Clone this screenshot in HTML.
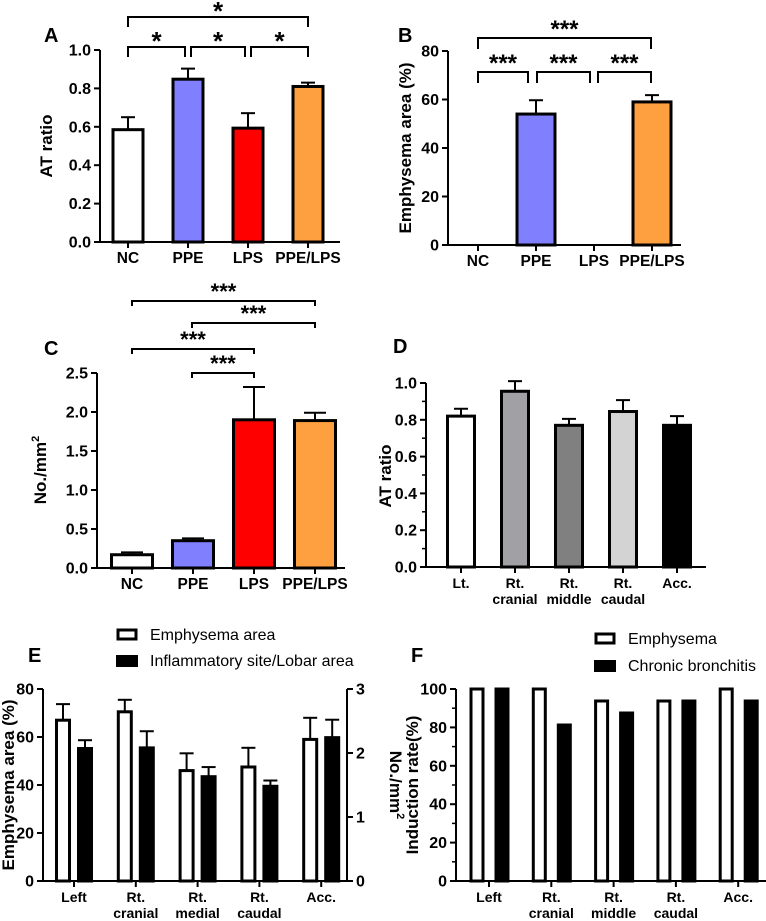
<!DOCTYPE html>
<html><head><meta charset="utf-8"><style>
body{margin:0;background:#fff}
svg{display:block;font-family:"Liberation Sans",Arial,sans-serif}
</style></head><body>
<svg id="fig" width="766" height="921" viewBox="0 0 766 921" xmlns="http://www.w3.org/2000/svg"></svg>
<script>
// Panel A
const aCats=["NC","PPE","LPS","PPE/LPS"];
const aVals=[0.585,0.848,0.593,0.81];
const aErr=[0.065,0.055,0.078,0.02];
const aTicks=[0,0.2,0.4,0.6,0.8,1.0];
// Panel B
const bCats=["NC","PPE","LPS","PPE/LPS"];
const bVals=[0,54,0,59];
const bErr=[0,5.7,0,2.8];
const bTicks=[0,20,40,60,80];
// Panel C
const cCats=["NC","PPE","LPS","PPE/LPS"];
const cVals=[0.17,0.35,1.9,1.89];
const cErr=[0.03,0.03,0.42,0.1];
const cTicks=[0,0.5,1.0,1.5,2.0,2.5];
// Panel D
const dCats=[["Lt."],["Rt.","cranial"],["Rt.","middle"],["Rt.","caudal"],["Acc."]];
const dVals=[0.82,0.955,0.77,0.845,0.77];
const dErr=[0.04,0.055,0.035,0.062,0.05];
const dTicks=[0,0.2,0.4,0.6,0.8,1.0];
// Panel E
const eCats=[["Left"],["Rt.","cranial"],["Rt.","medial"],["Rt.","caudal"],["Acc."]];
const eEmph=[67,70.5,46,47.5,59];
const eEmphErr=[6.7,5,7.2,8,9];
const eInfl=[2.07,2.08,1.63,1.48,2.24];
const eInflErr=[0.13,0.26,0.15,0.09,0.28];
const eTicksL=[0,20,40,60,80];
const eTicksR=[0,1,2,3];
// Panel F
const fCats=[["Left"],["Rt.","cranial"],["Rt.","middle"],["Rt.","caudal"],["Acc."]];
const fEmph=[100,100,93.75,93.75,100];
const fChron=[100,81.25,87.5,93.75,93.75];
const fTicks=[0,20,40,60,80,100];

const NS="http://www.w3.org/2000/svg";
const svg=document.getElementById('fig');
function el(tag,attrs,parent,text){
  const e=document.createElementNS(NS,tag);
  for(const k in attrs)e.setAttribute(k,attrs[k]);
  if(text!==undefined)e.textContent=text;
  (parent||svg).appendChild(e);return e;
}
function group(name){const g=el('g',{});return g;}
function lin(d0,d1,r0,r1){return v=>r0+(v-d0)/(d1-d0)*(r1-r0);}
function fmt(v,dec){return v.toFixed(dec);}

function yAxis(g,x,y,ticks,dec,minor,side){
  const ax=el('line',{x1:x,y1:y(ticks[0])+1,x2:x,y2:y(ticks[ticks.length-1]),stroke:'#000','stroke-width':2},g);
  
  const s=side||-1;
  ticks.forEach(t=>{
    el('line',{x1:x,x2:x+s*6,y1:y(t),y2:y(t),stroke:'#000','stroke-width':2},g);
    const tx=el('text',{x:x+s*9,y:y(t)+5.5,'font-size':16,'font-weight':'bold','text-anchor':s<0?'end':'start'},g,fmt(t,dec));
    
  });
  if(minor){for(let i=0;i<ticks.length-1;i++){const m=(ticks[i]+ticks[i+1])/2;el('line',{x1:x,x2:x+s*4,y1:y(m),y2:y(m),stroke:'#000','stroke-width':1.5},g);}}
}
function xAxis(g,x0,x1,y0){
  const a=el('line',{x1:x0-1,x2:x1,y1:y0,y2:y0,stroke:'#000','stroke-width':2},g);
  
}
function xLabels(g,xs,cats,y0,fs){
  cats.forEach((c,i)=>{
    el('line',{x1:xs(i),x2:xs(i),y1:y0,y2:y0+6,stroke:'#000','stroke-width':2},g);
    const lines=Array.isArray(c)?c:[c];
    lines.forEach((l,j)=>{const t=el('text',{x:xs(i),y:y0+21+j*16,'font-size':fs||15.5,'font-weight':'bold','text-anchor':'middle'},g,l);
      });
  });
}
function bar(g,cx,w,y,v,fill,name,stroke){
  const top=y(v),b=y(0);
  const r=el('rect',{x:cx-w/2,y:top,width:w,height:Math.max(0,b-top),fill:fill,stroke:stroke||'#000','stroke-width':3},g);
  
}
function errbar(g,cx,y,v,e,capw){
  if(e<=0)return;
  el('line',{x1:cx,x2:cx,y1:y(v),y2:y(v+e),stroke:'#000','stroke-width':2},g);
  el('line',{x1:cx-capw,x2:cx+capw,y1:y(v+e),y2:y(v+e),stroke:'#000','stroke-width':2},g);
}
function bracket(g,xa,xb,yy,drop,stars,fs,off){
  el('path',{d:`M${xa},${yy+drop} V${yy} H${xb} V${yy+drop}`,fill:'none',stroke:'#000','stroke-width':2},g);
  const t=el('text',{x:(xa+xb)/2,y:yy+off,'font-size':fs||22,'font-weight':'bold','text-anchor':'middle'},g,stars);
  
}
function label(txt,x,y){const t=el('text',{x:x,y:y,'font-size':20,'font-weight':'bold'},svg,txt);}
function ytitle(g,txt,x,y,rot,sup){
  const t=el('text',{x:x,y:y,'font-size':17,'font-weight':'bold','text-anchor':'middle',transform:`rotate(${rot} ${x} ${y})`},g);
  t.textContent=txt;
  if(sup){el('tspan',{dy:-7,'font-size':11},t,sup);}
  
}
const colors4=['#ffffff','#8080ff','#ff0000','#ffa040'];

// ---- A
(function(){
  const g=group('panel-a-chart');
  const y=lin(0,1,242,50), xs=i=>128+i*60;
  aCats.forEach((c,i)=>{bar(g,xs(i),30,y,aVals[i],colors4[i],'bar-'+c.toLowerCase());errbar(g,xs(i),y,aVals[i],aErr[i],7);});
  xAxis(g,100,340,242);yAxis(g,100,y,aTicks,1,false);xLabels(g,xs,aCats,242);
  ytitle(g,'AT ratio',52,146,-90);
  bracket(g,128,308,17,10,'*',26,3);
  bracket(g,128,185,47,10,'*',26,3);bracket(g,191,245,47,10,'*',26,3);bracket(g,251,308,47,10,'*',26,3);
  label('A',44,42);
})();
// ---- B
(function(){
  const g=group('panel-b-chart');
  const y=lin(0,80,245,51), xs=i=>478+i*58;
  bCats.forEach((c,i)=>{if(bVals[i]>0)bar(g,xs(i),38,y,bVals[i],colors4[i],'bar-'+c.toLowerCase());errbar(g,xs(i),y,bVals[i],bErr[i],7);});
  xAxis(g,448,681,245);yAxis(g,448,y,bTicks,0,false);xLabels(g,xs,bCats,245);
  ytitle(g,'Emphysema area (%)',411,148,-90);
  bracket(g,478,651,38,11,'***',24,-1);
  bracket(g,478,528,72,11,'***',24,-1);bracket(g,537,590,72,11,'***',24,-1);bracket(g,598,651,72,11,'***',24,-1);
  label('B',398,42);
})();
// ---- C
(function(){
  const g=group('panel-c-chart');
  const y=lin(0,2.5,568,373), xs=i=>132+i*61;
  cCats.forEach((c,i)=>{bar(g,xs(i),41,y,cVals[i],colors4[i],'bar-'+c.toLowerCase());errbar(g,xs(i),y,cVals[i],cErr[i],11);});
  xAxis(g,97,345,568);yAxis(g,97,y,cTicks,1,false);xLabels(g,xs,cCats,568);
  ytitle(g,'No./mm',46,470,-90,'2');
  bracket(g,132,315,301,5,'***',22,-2);bracket(g,192,315,323,5,'***',22,-2);
  bracket(g,132,254,349,5,'***',22,-2);bracket(g,192,254,373,5,'***',22,-2);
  label('C',44,355);
})();
// ---- D
(function(){
  const g=group('panel-d-chart');
  const y=lin(0,1,567,383), xs=i=>461+i*54;
  const cols=['#ffffff','#a0a0a5','#808080','#d3d3d3','#000000'];
  dCats.forEach((c,i)=>{bar(g,xs(i),27,y,dVals[i],cols[i],'bar-'+c.join('-').toLowerCase());errbar(g,xs(i),y,dVals[i],dErr[i],7);});
  xAxis(g,426,706,567);yAxis(g,426,y,dTicks,1,true);xLabels(g,xs,dCats,567,14);
  ytitle(g,'AT ratio',391,476,-90);
  label('D',393,353);
})();
// ---- E
(function(){
  const g=group('panel-e-chart');
  const yL=lin(0,80,881,689), yR=lin(0,3,881,689), xs=i=>74+i*61.8;
  eCats.forEach((c,i)=>{
    bar(g,xs(i)-11,13,yL,eEmph[i],'#fff','bar-emphysema-'+c.join('-').toLowerCase());errbar(g,xs(i)-11,yL,eEmph[i],eEmphErr[i],7);
    bar(g,xs(i)+11,13,yR,eInfl[i],'#000','bar-inflammatory-'+c.join('-').toLowerCase());errbar(g,xs(i)+11,yR,eInfl[i],eInflErr[i],7);
  });
  xAxis(g,43,347,881);yAxis(g,43,yL,eTicksL,0,false);yAxis(g,347,yR,eTicksR,0,false,1);
  xLabels(g,xs,eCats,881,14);
  ytitle(g,'Emphysema area (%)',14,785,-90);
  ytitle(g,'No./mm',390,785,90,'2');
  const l1=el('rect',{x:118,y:630,width:18,height:9,fill:'#fff',stroke:'#000','stroke-width':3},g);
  const t1=el('text',{x:150,y:640,'font-size':16},g,'Emphysema area');
  const l2=el('rect',{x:116,y:655,width:22,height:12,fill:'#000'},g);
  const t2=el('text',{x:150,y:666,'font-size':16},g,'Inflammatory site/Lobar area');
  label('E',28,662);
})();
// ---- F
(function(){
  const g=group('panel-f-chart');
  const y=lin(0,100,881,689), xs=i=>489+i*62.3;
  fCats.forEach((c,i)=>{
    bar(g,xs(i)-12,12,y,fEmph[i],'#fff','bar-emphysema-'+c.join('-').toLowerCase());
    bar(g,xs(i)+13,12,y,fChron[i],'#000','bar-chronic-'+c.join('-').toLowerCase());
  });
  xAxis(g,456,766,881);yAxis(g,456,y,fTicks,0,true);xLabels(g,xs,fCats,881,14);
  ytitle(g,'Induction rate(%)',418,785,-90);
  const l1=el('rect',{x:596,y:634,width:18,height:9,fill:'#fff',stroke:'#000','stroke-width':3},g);
  const t1=el('text',{x:628,y:644,'font-size':16},g,'Emphysema');
  const l2=el('rect',{x:594,y:660,width:22,height:12,fill:'#000'},g);
  const t2=el('text',{x:628,y:671,'font-size':16},g,'Chronic bronchitis');
  label('F',411,662);
})();
</script>
</body></html>
